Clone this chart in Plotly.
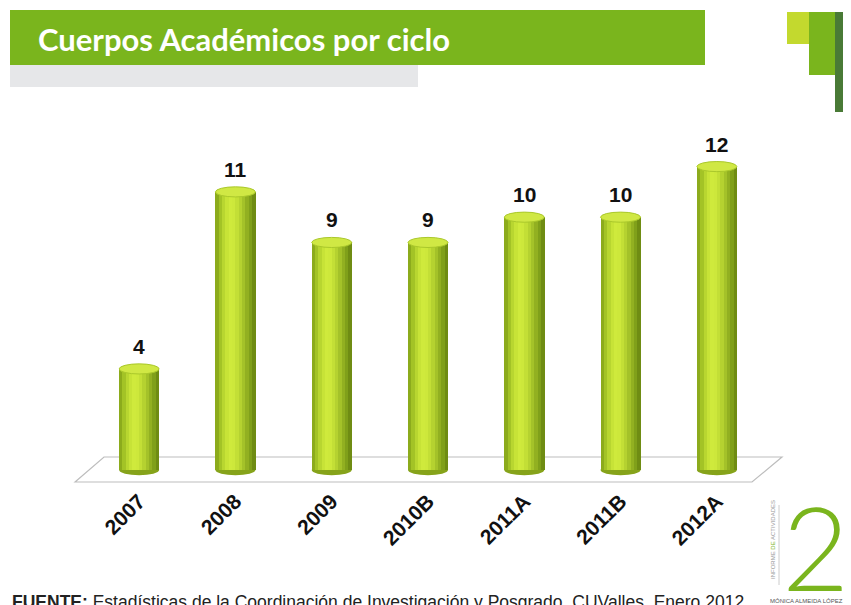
import plotly.graph_objects as go

categories = ["2007", "2008", "2009", "2010B", "2011A", "2011B", "2012A"]
values = [4, 11, 9, 9, 10, 10, 12]

title_text = "Cuerpos Académicos por ciclo"
source_text = "<b>FUENTE:</b> Estadísticas de la Coordinación de Investigación y Posgrado, CUValles, Enero 2012."

# cylinder shading strips (left -> right)
strip_colors = ["#8cab1c", "#a3c326", "#b8d630", "#c7e337", "#cfea3c", "#cde83b",
                "#c3df36", "#b5d230", "#a4c229", "#92b021", "#80a01a", "#6f8c13"]
bar_w = 0.415
n = len(strip_colors)
xs = list(range(len(categories)))

# plot area in screenshot pixels (page body adds an 8px offset)
PL, PR, PT, PB = 91, 765, 116, 484
W, H = 851, 605


def px(xp):
    return (xp - PL) / (PR - PL)


def py(yp):
    return (PB - yp) / (PB - PT)


fig = go.Figure()
for i, c in enumerate(strip_colors):
    fig.add_trace(go.Bar(
        x=xs, y=values, width=bar_w / n + 0.003, offset=-bar_w / 2 + i * bar_w / n,
        marker=dict(color=c, line=dict(width=0)), hoverinfo="skip", showlegend=False))

shapes = []
# floor parallelogram (paper coords so it may extend past the plot area)
fl = [(75, 482), (104, 457), (782, 457), (752, 482)]
path = "M " + " L ".join(f"{px(a):.4f} {py(b):.4f}" for a, b in fl) + " Z"
shapes.append(dict(type="path", xref="paper", yref="paper", layer="below", path=path,
                   line=dict(color="#bdbdbd", width=1.2), fillcolor="rgba(255,255,255,0)"))
eh = 0.2
for x, v in zip(xs, values):
    shapes.append(dict(type="circle", xref="x", yref="y", layer="below",
                       x0=x - bar_w / 2, x1=x + bar_w / 2, y0=-eh, y1=eh,
                       fillcolor="#86a31a", line=dict(width=0)))
    shapes.append(dict(type="circle", xref="x", yref="y", layer="above",
                       x0=x - bar_w / 2, x1=x + bar_w / 2, y0=v - eh, y1=v + eh,
                       fillcolor="#d0e844", line=dict(color="#aac82b", width=1)))

paper_shapes = [
    (10, 705, 10, 65, "#7ab51d"),
    (10, 418, 65, 87, "#e6e7e9"),
    (787, 809, 12, 44, "#c3d92e"),
    (809, 835, 12, 75, "#7ab51d"),
    (835, 851, 12, 112, "#497a36"),
]
for x0, x1, y0, y1, col in paper_shapes:
    shapes.append(dict(type="rect", xref="paper", yref="paper",
                       x0=px(x0), x1=px(x1), y0=py(y1), y1=py(y0),
                       line=dict(width=0), fillcolor=col, layer="above"))

annotations = []
for x, v in zip(xs, values):
    annotations.append(dict(x=x, y=v, xref="x", yref="y", text=f"<b>{v}</b>",
                            showarrow=False, yanchor="bottom", yshift=9,
                            font=dict(family="Liberation Sans, Arial", size=21, color="#111")))

annotations += [
    dict(xref="paper", yref="paper", x=px(36), y=py(39), xanchor="left", yanchor="middle",
         text=f"<b>{title_text}</b>", showarrow=False,
         font=dict(family="Lato, Open Sans", size=31, color="white")),
    dict(xref="paper", yref="paper", x=px(10), y=py(602), xanchor="left", yanchor="middle",
         text=source_text, showarrow=False,
         font=dict(family="Liberation Sans, Arial", size=17.5, color="#222")),
    dict(xref="paper", yref="paper", x=px(816), y=py(546), xanchor="center", yanchor="middle",
         text="2", showarrow=False,
         font=dict(family="Lato", size=116, color="#7ab51d", weight=300)),
    dict(xref="paper", yref="paper", x=px(773), y=py(540), xanchor="center", yanchor="middle",
         text="INFORME <span style='color:#7ab51d'>DE</span> ACTIVIDADES", showarrow=False,
         textangle=-90, font=dict(family="Liberation Sans", size=6, color="#999")),
    dict(xref="paper", yref="paper", x=px(768), y=py(601), xanchor="left", yanchor="middle",
         text="MÓNICA ALMEIDA LÓPEZ", showarrow=False,
         font=dict(family="Liberation Sans", size=6, color="#555")),
]
shapes.append(dict(type="line", xref="paper", yref="paper", x0=px(779), x1=px(779),
                   y0=py(585), y1=py(505), line=dict(color="#cccccc", width=1)))

fig.update_layout(
    width=W, height=H,
    margin=dict(l=PL - 8, r=W - (PR - 8), t=PT - 8, b=H - (PB - 8)),
    barmode="overlay", bargap=0,
    plot_bgcolor="white", paper_bgcolor="white",
    shapes=shapes, annotations=annotations,
    xaxis=dict(range=[-0.5, 6.5], tickmode="array", tickvals=xs,
               ticktext=[f"<b>{c}</b>" for c in categories],
               tickangle=-45, showgrid=False, zeroline=False, showline=False, ticks="",
               tickfont=dict(family="Liberation Sans, Arial", size=21, color="#111")),
    yaxis=dict(range=[-0.55, 14], visible=False, showgrid=False, zeroline=False),
)

fig.write_html("out.html")
